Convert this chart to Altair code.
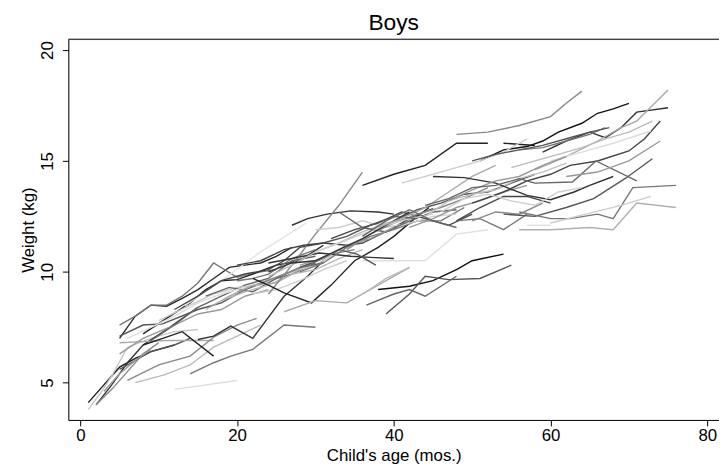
import altair as alt
import pandas as pd

# Each child: (ages in months, weights in kg, grey shade)
children = [
    # infants
    ([1, 3, 5, 7, 9, 12], [4.1, 4.9, 5.7, 6.1, 6.4, 6.7], "#1a1a1a"),
    ([1, 2.5, 4, 6, 9, 12, 15], [3.8, 4.5, 5.3, 6.6, 7.0, 7.3, 7.4], "#c8c8c8"),
    ([2, 4, 6, 8, 11, 15], [4.0, 4.9, 5.9, 6.7, 7.4, 8.4], "#333333"),
    ([2, 4, 6, 8, 10], [4.0, 4.7, 5.5, 6.3, 6.8], "#888888"),
    ([5, 7, 9, 12, 14], [5.6, 6.0, 6.4, 6.7, 7.0], "#555555"),
    ([3, 5, 7, 9], [4.6, 5.4, 6.0, 6.5], "#999999"),
    # early group
    ([5, 7, 9, 11, 13, 15, 17, 19, 21, 23, 25, 27], [7.0, 8.0, 8.5, 8.45, 8.8, 9.2, 9.7, 10.2, 10.3, 10.4, 10.7, 11.1], "#2a2a2a"),
    ([5, 7, 9, 11, 13, 15, 17, 20, 23, 25], [7.6, 8.0, 8.5, 8.5, 8.9, 9.5, 10.4, 9.75, 10.0, 10.1], "#777777"),
    ([5, 8, 10.5, 15, 18, 21, 24, 27, 30], [7.1, 7.6, 7.65, 8.3, 8.6, 9.2, 9.6, 9.9, 10.4], "#555555"),
    ([8, 11, 14, 16, 18, 20, 22, 25, 28, 31], [7.2, 7.9, 8.6, 9.2, 9.6, 9.65, 9.9, 10.3, 10.5, 11.2], "#222222"),
    ([5, 8, 11, 14, 17], [6.8, 6.85, 6.9, 6.9, 6.9], "#aaaaaa"),
    ([6, 10, 14, 17, 20, 22.5], [5.1, 5.8, 6.2, 7.05, 7.6, 7.9], "#888888"),
    ([7, 10.7, 14, 17, 20, 23], [5.0, 5.35, 5.8, 6.6, 7.1, 7.6], "#bbbbbb"),
    ([14, 17, 19.2, 22, 26, 30], [5.4, 5.9, 6.2, 6.5, 7.6, 7.5], "#777777"),
    ([12, 20], [4.7, 5.1], "#dddddd"),
    ([8, 10.5, 13, 17], [6.7, 7.0, 7.3, 6.2], "#222222"),
    ([15, 17, 19.2, 22, 26, 29, 31], [6.95, 7.1, 7.55, 7.0, 8.9, 9.8, 10.5], "#333333"),
    ([13.3, 18, 23, 28.8], [8.46, 9.6, 10.9, 12.2], "#e3e3e3"),
    ([5, 8, 12, 15, 18, 21, 24], [6.3, 7.0, 7.6, 8.1, 8.3, 8.9, 9.2], "#999999"),
    ([9, 12, 15, 18, 21, 24, 27, 30], [6.9, 7.6, 8.4, 8.9, 9.4, 9.7, 10.5, 10.7], "#666666"),
    ([10, 14, 17, 20, 23, 26, 30, 33], [7.8, 8.5, 9.0, 9.3, 9.4, 9.9, 10.3, 10.9], "#c8c8c8"),
    ([12, 15, 18, 21, 24, 26, 28, 31], [8.3, 8.9, 9.6, 9.9, 10.1, 10.5, 11.1, 11.3], "#444444"),
    ([16, 19, 22, 25, 28, 31], [8.9, 9.3, 9.1, 9.7, 10.2, 10.4], "#666666"),
    ([18, 21, 24, 27, 30, 33, 36], [8.7, 9.1, 9.4, 9.9, 10.1, 10.6, 11.0], "#b5b5b5"),
    ([20, 23, 26, 29, 32, 35], [9.1, 9.5, 9.9, 10.3, 10.8, 11.0], "#888888"),
    ([6, 9, 12, 15, 18, 21], [7.0, 7.5, 8.0, 8.6, 9.0, 9.3], "#dddddd"),
    ([16, 19, 22, 25, 28], [8.3, 8.9, 9.4, 9.5, 10.1], "#aaaaaa"),
    ([20, 22, 24, 27, 30], [9.6, 9.7, 9.9, 10.6, 11.0], "#777777"),
    ([22, 25, 28, 31, 34], [9.0, 9.2, 9.6, 10.1, 10.5], "#cccccc"),
    # middle group
    ([27, 29, 31.5, 34.5, 38, 40], [12.1, 12.4, 12.6, 12.75, 12.7, 12.6], "#333333"),
    ([24, 27, 30, 33, 36], [9.0, 10.3, 11.7, 13.0, 14.5], "#888888"),
    ([22, 24, 26, 29.5, 32, 35, 38, 40, 43, 44.5], [9.7, 9.4, 9.05, 8.6, 9.4, 10.5, 11.1, 11.6, 12.5, 12.9], "#222222"),
    ([20, 23, 26, 28.5, 31, 34, 36, 39.5, 42.5, 45], [10.3, 10.5, 11.0, 11.2, 11.3, 11.2, 11.3, 11.9, 12.5, 12.85], "#444444"),
    ([26, 30, 34, 38, 42], [8.2, 8.7, 8.6, 9.4, 10.2], "#aaaaaa"),
    ([36, 40, 44, 48, 52], [10.5, 10.5, 10.5, 11.7, 11.9], "#e0e0e0"),
    ([24, 27, 30.5, 34.5, 37, 40], [10.4, 10.6, 10.85, 10.7, 10.65, 10.6], "#333333"),
    ([38, 42, 45, 48, 50, 54], [9.2, 9.35, 9.6, 10.1, 10.5, 10.8], "#111111"),
    ([39, 42, 44, 47, 51, 55], [8.1, 9.0, 9.8, 9.65, 9.7, 10.3], "#555555"),
    ([36.5, 40, 42, 44, 48], [8.5, 9.0, 9.2, 8.9, 9.8], "#666666"),
    ([36.5, 39, 42], [9.1, 9.7, 10.2], "#bbbbbb"),
    ([28, 31, 33, 35.3, 37.7], [10.2, 10.6, 11.0, 10.8, 10.3], "#555555"),
    ([28, 31, 34, 37, 40, 43, 46, 49], [10.0, 10.4, 11.1, 11.6, 11.9, 12.3, 12.3, 12.9], "#777777"),
    ([24, 27, 30, 33, 36, 39, 42], [9.8, 10.3, 10.9, 11.3, 11.8, 12.2, 12.4], "#bbbbbb"),
    ([30, 33, 36, 39, 42, 45, 48], [11.9, 12.0, 12.3, 12.0, 12.2, 12.5, 12.6], "#cfcfcf"),
    ([32, 35, 38, 41, 44, 47, 50], [11.5, 11.9, 12.2, 12.7, 12.4, 12.1, 12.6], "#444444"),
    ([33, 36, 39, 42, 45, 48], [12.7, 12.0, 11.8, 12.3, 12.7, 12.8], "#666666"),
    ([34, 37, 40, 43, 46, 49, 52], [11.0, 11.7, 12.2, 12.6, 12.9, 13.3, 13.8], "#888888"),
    ([28, 31, 34, 37, 40], [10.3, 10.6, 11.2, 11.5, 12.0], "#999999"),
    ([30, 33, 36, 39, 42, 45], [10.9, 11.3, 11.7, 12.1, 12.4, 12.6], "#cfcfcf"),
    ([31, 34, 37, 40, 43], [11.3, 11.6, 12.1, 12.5, 12.4], "#555555"),
    ([24, 27, 30, 33, 36, 39, 42], [10.0, 10.4, 10.5, 11.0, 11.5, 12.1, 12.7], "#333333"),
    ([40, 43, 46, 49, 52, 55, 58], [12.3, 12.8, 13.1, 13.5, 13.6, 14.0, 14.4], "#555555"),
    ([42, 45, 48, 51, 54, 57], [12.0, 12.4, 12.9, 13.2, 13.6, 13.9], "#999999"),
    ([44, 47, 50, 53, 56, 59, 62], [12.5, 13.2, 13.5, 13.7, 14.2, 14.5, 14.9], "#c0c0c0"),
    ([48, 51, 54, 57], [12.3, 12.4, 11.9, 12.6], "#777777"),
    ([48, 51, 54, 57, 60], [12.3, 12.9, 13.4, 13.4, 13.1], "#444444"),
    ([38, 41, 44, 47, 50, 53], [12.0, 12.4, 12.9, 13.6, 14.3, 14.8], "#aaaaaa"),
    ([36, 39, 42, 45, 48], [11.6, 12.3, 12.8, 12.3, 12.0], "#666666"),
    ([50, 53, 56, 59], [12.3, 12.7, 12.6, 13.1], "#888888"),
    # late group
    ([48, 52, 56, 60, 62, 64], [16.2, 16.3, 16.6, 17.0, 17.6, 18.15], "#888888"),
    ([36, 40, 44, 48, 52], [13.9, 14.4, 14.8, 15.8, 15.8], "#222222"),
    ([54, 58], [15.8, 15.7], "#222222"),
    ([51, 54, 57, 59, 61, 64, 66, 68, 70], [15.0, 15.5, 15.65, 15.9, 16.3, 16.7, 17.15, 17.35, 17.6], "#111111"),
    ([59, 62, 65, 67, 69, 71, 75], [15.4, 15.9, 16.3, 16.05, 16.5, 17.2, 17.4], "#333333"),
    ([58, 62, 66, 69, 71, 75], [14.6, 15.2, 15.9, 16.5, 16.8, 18.2], "#aaaaaa"),
    ([41, 46.5, 51, 54, 57], [14.0, 14.55, 15.0, 15.4, 16.0], "#cccccc"),
    ([45, 49, 53, 57, 60, 63, 65, 68], [14.3, 14.25, 14.0, 13.45, 13.25, 13.6, 13.9, 14.3], "#333333"),
    ([50, 54, 57, 60, 62.5, 66, 70, 72, 74], [13.1, 13.6, 14.1, 14.4, 14.8, 15.0, 15.45, 16.0, 16.8], "#444444"),
    ([54, 58, 62, 65.5, 69.5, 73], [12.6, 12.5, 12.9, 13.3, 14.2, 15.1], "#555555"),
    ([56, 60, 62.5, 66, 68, 70.5, 76], [12.7, 12.4, 12.4, 12.6, 12.4, 13.8, 13.9], "#777777"),
    ([56, 60, 65, 68, 71, 76], [11.9, 11.9, 12.0, 11.9, 13.1, 12.9], "#b0b0b0"),
    ([57, 60], [12.1, 12.1], "#e0e0e0"),
    ([60, 64.5, 69, 72.8], [12.2, 12.6, 13.0, 13.4], "#cccccc"),
    ([58, 62.8, 65.8, 71], [14.0, 14.05, 15.0, 14.1], "#666666"),
    ([62, 66, 70, 74], [14.3, 14.5, 15.0, 15.9], "#999999"),
    ([60, 64, 68, 72.8], [15.0, 15.4, 15.8, 16.35], "#dddddd"),
    ([56, 59, 62, 65, 67], [15.5, 15.6, 15.9, 16.2, 16.5], "#777777"),
    ([50, 53, 56, 59, 62, 65, 67.5], [15.0, 15.3, 15.5, 15.7, 16.0, 16.3, 16.5], "#555555"),
    ([55, 58, 61, 64, 67, 70, 73], [14.7, 15.0, 15.3, 15.6, 16.0, 16.3, 16.8], "#bbbbbb"),
    ([47, 50, 53, 56, 59, 62], [13.2, 13.7, 14.1, 14.3, 14.8, 15.2], "#999999"),
    ([44, 47, 50, 53, 56, 58], [13.0, 13.3, 13.8, 13.9, 14.2, 14.0], "#666666"),
    ([46, 49, 52, 55, 58, 61, 64], [12.7, 13.3, 13.5, 13.2, 13.0, 13.6, 13.8], "#cfcfcf"),
]

x_ticks = [0, 20, 40, 60, 80]
y_ticks = [5, 10, 15, 20]

rows = []
for i, (ages, wts, shade) in enumerate(children):
    for a, w in zip(ages, wts):
        rows.append({"id": i, "age": a, "wt": w, "shade": shade})
df = pd.DataFrame(rows)

W, H = 658, 385
FONT = "Liberation Sans"

lines = alt.Chart(df).mark_line(strokeWidth=1.4).encode(
    x=alt.X("age:Q", scale=alt.Scale(domain=[-1.54, 81.5], nice=False, zero=False),
            axis=alt.Axis(values=x_ticks, title="Child's age (mos.)",
                          grid=False, domainColor="black", tickColor="black",
                          tickSize=6, labelFontSize=17, titleFontSize=17,
                          labelFont=FONT, titleFont=FONT, titleFontWeight="normal",
                          labelColor="black", titleColor="black", labelPadding=2,
                          titleBaseline="middle", titleY=36)),
    y=alt.Y("wt:Q", scale=alt.Scale(domain=[3.32, 20.49], nice=False, zero=False),
            axis=alt.Axis(values=y_ticks, title="Weight (kg)",
                          grid=False, domainColor="black", tickColor="black",
                          tickSize=6, labelFontSize=17, titleFontSize=17,
                          labelFont=FONT, titleFont=FONT, titleFontWeight="normal",
                          labelColor="black", titleColor="black",
                          labelAngle=-90, labelAlign="center", labelBaseline="middle",
                          labelPadding=15,
                          titleAngle=-90, titleAlign="center", titleBaseline="middle",
                          titleX=-40, titleY=H / 2)),
    detail="id:N",
    color=alt.Color("shade:N", scale=None),
    order="age:Q",
)

top = alt.Chart(alt.Data(values=[{}])).mark_rule(color="black", strokeWidth=1).encode(
    x=alt.value(0), x2=alt.value(W), y=alt.value(0)
)

chart = alt.layer(lines, top).properties(
    width=W, height=H,
    title=alt.TitleParams("Boys", fontSize=23, font=FONT, fontWeight="normal",
                          color="black", anchor="middle", offset=4),
    autosize=alt.AutoSizeParams(type="none"),
    padding={"left": 61, "top": 29, "right": 0, "bottom": 44},
).configure_view(stroke=None).configure(background="white")

chart.save("out.html", embed_options={"renderer": "svg", "actions": False})
